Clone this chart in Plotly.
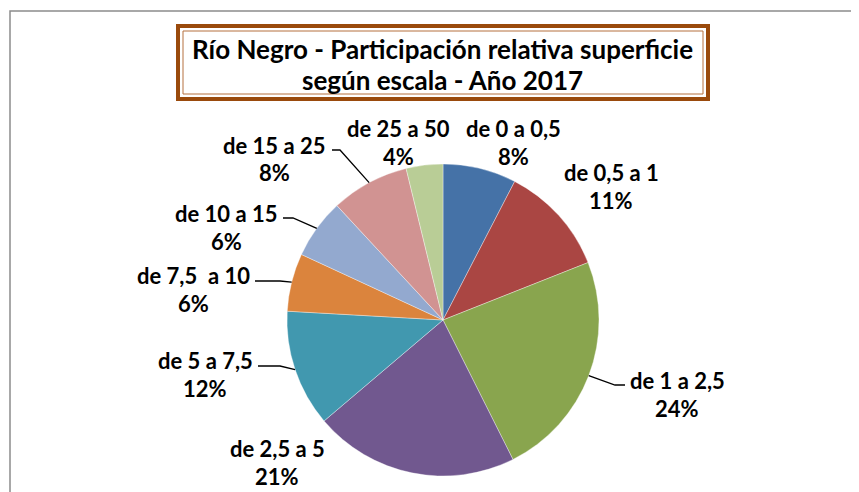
import math
import plotly.graph_objects as go

# ---- data ----
categories = ["de 0 a 0,5", "de 0,5 a 1", "de 1 a 2,5", "de 2,5 a 5", "de 5 a 7,5",
              "de 7,5  a 10", "de 10 a 15", "de 15 a 25", "de 25 a 50"]
shares = [7.6, 11.4, 23.6, 21.2, 12.1, 6.0, 6.2, 8.1, 3.8]
colors = ["#4572A7", "#AA4643", "#89A54E", "#71588F", "#4198AF",
          "#DB843D", "#93A9CF", "#D19392", "#B9CD96"]
title_lines = ["Río Negro - Participación relativa superficie", "según escala - Año 2017"]

# ---- layout (page pixels) ----
OFF = 8                     # page body margin
FW, FH = 859 - OFF, 492 - OFF
CX, CY, R = 443, 320, 156
FONT = "Lato"
label_pos = [(513, 128), (611, 172), (677, 380), (277, 448), (205, 360),
             (193, 275), (226, 213), (274, 145), (398, 128)]
leaders = [None, None, (625, 615, 385), None, (258, 280, 366),
           (255, 280, 281), (283, 293, 218), (332, 340, 150), None]


def px(x, y):
    return (x - OFF) / FW, 1 - (y - OFF) / FH


dx0, dy1 = px(CX - R, CY - R)
dx1, dy0 = px(CX + R, CY + R)
fig = go.Figure(go.Pie(
    labels=categories, values=shares, sort=False, direction="clockwise", rotation=0,
    marker=dict(colors=colors, line=dict(color="rgba(255,255,255,0.6)", width=0.6)),
    textinfo="none", hoverinfo="label+percent", showlegend=False,
    domain=dict(x=[dx0, dx1], y=[dy0, dy1]),
))

total = sum(shares)
annotations = []
shapes = []
cum = 0
for i, (cat, v) in enumerate(zip(categories, shares)):
    mid = (cum + v / 2) / total * 2 * math.pi
    cum += v
    lx, ly = label_pos[i]
    pct = round(v / total * 100)
    for j, txt in enumerate([cat, f"{pct}%"]):
        x, y = px(lx, ly + j * 28)
        annotations.append(dict(x=x, y=y, xref="paper", yref="paper", text=f"<b>{txt}</b>",
                                showarrow=False, xanchor="center", yanchor="middle",
                                font=dict(family=FONT, size=22, color="#000000")))
    if leaders[i]:
        xs, xe, yl = leaders[i]
        ex, ey = CX + R * math.sin(mid), CY - R * math.cos(mid)
        pts = [(xs, yl), (xe, yl), (ex, ey)]
        path = "M " + " L ".join(f"{px(a, b)[0]},{px(a, b)[1]}" for a, b in pts)
        shapes.append(dict(type="path", path=path, xref="paper", yref="paper",
                           line=dict(color="#000000", width=1.3)))

# outer frame
x0, y0 = px(10, 11)
shapes.append(dict(type="rect", xref="paper", yref="paper", x0=x0, y0=-0.1, x1=1.1, y1=y0,
                   line=dict(color="#8C8C8C", width=1.5), layer="below"))
# title box (double line)
bx0, by0 = px(178, 26)
bx1, by1 = px(708, 99)
shapes.append(dict(type="rect", xref="paper", yref="paper", x0=bx0, y0=by1, x1=bx1, y1=by0,
                   line=dict(color="#9A4A0C", width=4), fillcolor="white"))
ix0, iy0 = px(183, 31)
ix1, iy1 = px(703, 94)
shapes.append(dict(type="rect", xref="paper", yref="paper", x0=ix0, y0=iy1, x1=ix1, y1=iy0,
                   line=dict(color="#B5703F", width=1)))

for k, t in enumerate(title_lines):
    x, y = px(443, 49 + k * 31)
    annotations.append(dict(x=x, y=y, xref="paper", yref="paper", text=f"<b>{t}</b>",
                            showarrow=False, xanchor="center", yanchor="middle",
                            font=dict(family=FONT, size=26, color="#000000")))

fig.update_layout(width=FW, height=FH, margin=dict(l=0, r=0, t=0, b=0),
                  paper_bgcolor="white", plot_bgcolor="white",
                  annotations=annotations, shapes=shapes)
fig.write_html("out.html")
